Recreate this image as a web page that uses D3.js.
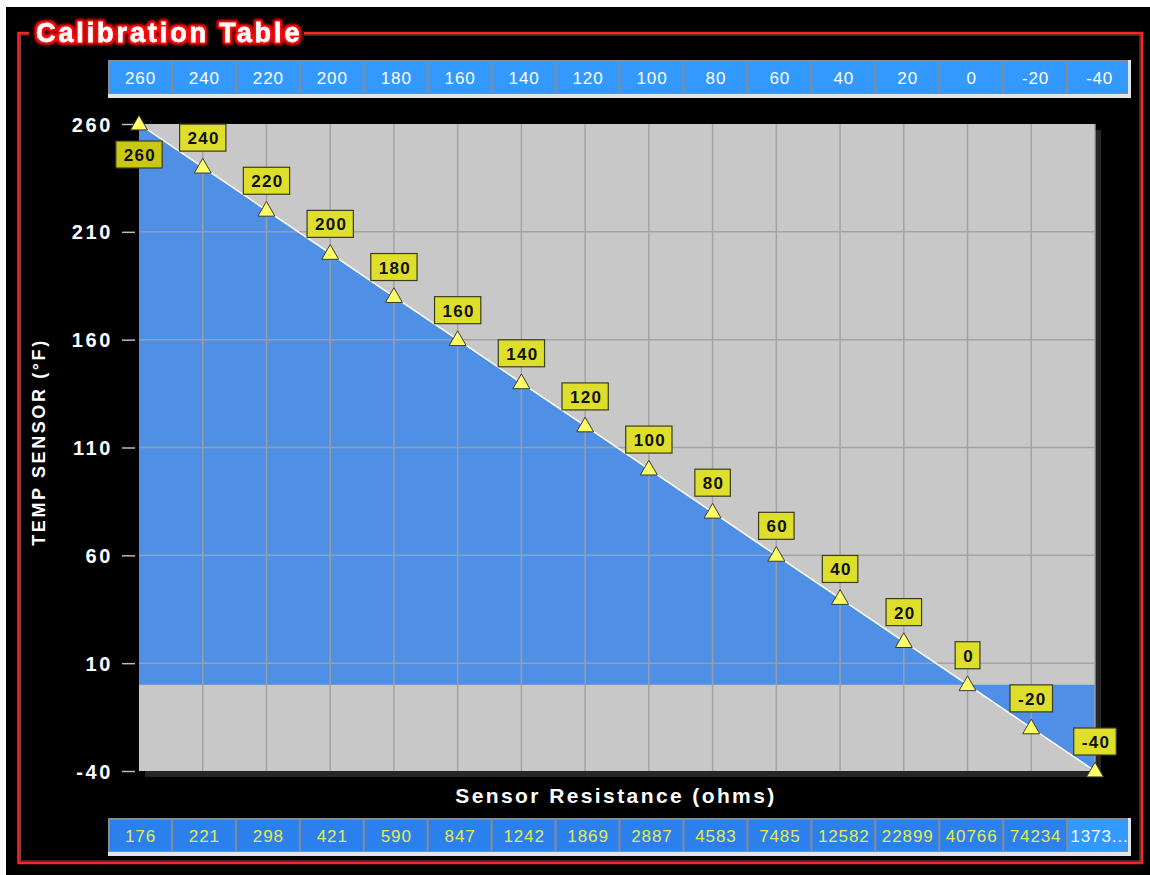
<!DOCTYPE html>
<html>
<head>
<meta charset="utf-8">
<script src="https://cdn.jsdelivr.net/npm/d3@7/dist/d3.min.js"></script>
<style>
  html, body { margin: 0; padding: 0; background: #ffffff; }
  svg { display: block; }
  text { font-family: "Liberation Sans", Arial, sans-serif; }
</style>
</head>
<body>
<svg id="chart" width="1150" height="875"></svg>
<script>
// ---------- data ----------
const temps = [260, 240, 220, 200, 180, 160, 140, 120, 100, 80, 60, 40, 20, 0, -20, -40];
const resistanceLabels = ["176", "221", "298", "421", "590", "847", "1242", "1869", "2887", "4583", "7485", "12582", "22899", "40766", "74234", "1373..."];
const yTickValues = [260, 210, 160, 110, 60, 10, -40];
const title = "Calibration Table";
const yTitle = "TEMP SENSOR (°F)";
const xTitle = "Sensor Resistance (ohms)";

// ---------- layout ----------
const svg = d3.select("#chart");
const W = 1150, H = 875;
const plot = { x0: 139, x1: 1095, y0: 124, y1: 771 };
const table = { x0: 108, x1: 1131 };

const idx = temps.map((d, i) => i);
const x = d3.scalePoint().domain(idx).range([plot.x0, plot.x1]);
const y = d3.scaleLinear().domain([-40, 260]).range([plot.y1, plot.y0]);
const band = d3.scaleBand().domain(idx).range([table.x0, table.x1]).paddingInner(0).paddingOuter(0);

// defs
const defs = svg.append("defs");
const glow = defs.append("filter").attr("id", "glow").attr("x", "-10%").attr("y", "-40%").attr("width", "120%").attr("height", "180%");
glow.append("feMorphology").attr("in", "SourceAlpha").attr("operator", "dilate").attr("radius", 2.4).attr("result", "dil");
glow.append("feFlood").attr("flood-color", "#ff1010").attr("result", "red");
glow.append("feComposite").attr("in", "red").attr("in2", "dil").attr("operator", "in").attr("result", "redDil");
glow.append("feGaussianBlur").attr("in", "redDil").attr("stdDeviation", 1.7).attr("result", "blur");
const gm = glow.append("feMerge");
gm.append("feMergeNode").attr("in", "blur");
gm.append("feMergeNode").attr("in", "blur");
gm.append("feMergeNode").attr("in", "SourceGraphic");

// background panel
svg.append("rect").attr("x", 6).attr("y", 7).attr("width", W - 6).attr("height", H - 7).attr("fill", "#000");

// red frame
svg.append("rect").attr("x", 18.5).attr("y", 33).attr("width", 1142 - 18.5).attr("height", 863 - 33)
  .attr("fill", "none").attr("stroke", "#ff2424").attr("stroke-width", 2.5);
svg.append("rect").attr("x", 20.5).attr("y", 35).attr("width", 1140 - 20.5).attr("height", 861 - 35)
  .attr("fill", "none").attr("stroke", "#ff9c9c").attr("stroke-width", 0.8).attr("opacity", 0.6);

// title (cut frame line behind it)
svg.append("rect").attr("x", 29).attr("y", 24).attr("width", 275).attr("height", 20).attr("fill", "#000");
svg.append("text").attr("x", 36).attr("y", 42)
  .attr("font-size", 27).attr("font-weight", "bold").attr("letter-spacing", 2.9)
  .attr("fill", "#ffffff").attr("stroke", "#ffffff").attr("stroke-width", 0.4)
  .attr("filter", "url(#glow)").text(title);

// ---------- tables ----------
function drawTable(yTop, labels, fillFn, textFn) {
  const g = svg.append("g");
  const h = 38;
  g.append("rect").attr("x", table.x0).attr("y", yTop).attr("width", table.x1 - table.x0).attr("height", h).attr("fill", "#e4e4e4");
  g.append("rect").attr("x", table.x0).attr("y", yTop).attr("width", table.x1 - table.x0 - 3).attr("height", h - 4).attr("fill", "#8a8a8a");
  g.selectAll("rect.cell").data(labels).join("rect").attr("class", "cell")
    .attr("x", (d, i) => band(i) + (i === 0 ? 2 : 1))
    .attr("y", yTop + 2)
    .attr("width", (d, i) => band.bandwidth() - (i === 0 ? 3 : 2) - (i === labels.length - 1 ? 2 : 0))
    .attr("height", h - 7)
    .attr("fill", (d, i) => fillFn(i));
  g.selectAll("text").data(labels).join("text")
    .attr("x", (d, i) => band(i) + band.bandwidth() / 2 + 0.5)
    .attr("y", yTop + 24)
    .attr("text-anchor", "middle")
    .attr("font-size", 17).attr("letter-spacing", 0.9)
    .attr("fill", (d, i) => textFn(i))
    .text(d => d);
}
drawTable(60, temps.map(String), () => "#3399ff", () => "#ffffff");
drawTable(818, resistanceLabels,
  i => i === resistanceLabels.length - 1 ? "#3399ff" : "#2c80ee",
  i => i === resistanceLabels.length - 1 ? "#f2f6ff" : "#e3ea4c");

// ---------- plot ----------
svg.append("rect").attr("x", plot.x0 + 6).attr("y", plot.y0 + 6)
  .attr("width", plot.x1 - plot.x0).attr("height", plot.y1 - plot.y0).attr("fill", "#262626");
svg.append("rect").attr("x", plot.x0).attr("y", plot.y0)
  .attr("width", plot.x1 - plot.x0).attr("height", plot.y1 - plot.y0).attr("fill", "#c8c8c8");

const area = d3.area().x((d, i) => x(i)).y0(y(0)).y1(d => y(d));
svg.append("path").datum(temps).attr("d", area).attr("fill", "#4f8fe6");

// grid
const grid = svg.append("g").attr("stroke", "#a0a0a0").attr("stroke-width", 1.5).attr("opacity", 0.9);
grid.selectAll("line.v").data(idx.slice(1)).join("line").attr("class", "v")
  .attr("x1", d => x(d)).attr("x2", d => x(d)).attr("y1", plot.y0).attr("y2", plot.y1);
grid.selectAll("line.h").data(yTickValues.filter(v => v !== -40 && v !== 260)).join("line").attr("class", "h")
  .attr("x1", plot.x0).attr("x2", plot.x1).attr("y1", d => y(d)).attr("y2", d => y(d));

// line
const line = d3.line().x((d, i) => x(i)).y(d => y(d));
svg.append("path").datum(temps).attr("d", line).attr("fill", "none").attr("stroke", "#ffffff").attr("stroke-width", 1.5);

// y axis
const yAxis = svg.append("g").attr("transform", `translate(${plot.x0},0)`)
  .call(d3.axisLeft(y).tickValues(yTickValues).tickSize(16).tickPadding(12).tickFormat(d => String(d)));
yAxis.select(".domain").remove();
yAxis.selectAll(".tick line").attr("stroke", "#bbbbbb").attr("stroke-width", 1.5).attr("x2", -4).attr("x1", -17);
yAxis.selectAll(".tick text").attr("fill", "#ffffff").attr("font-size", 20).attr("font-weight", "bold")
  .attr("letter-spacing", 2.6).attr("font-family", "'Liberation Sans', Arial, sans-serif").attr("x", -26).attr("dy", "0.35em");

// axis titles
svg.append("text").attr("transform", "translate(45,442) rotate(-90)")
  .attr("text-anchor", "middle").attr("font-size", 18).attr("font-weight", "bold").attr("letter-spacing", 2.6)
  .attr("fill", "#ffffff").text(yTitle);
svg.append("text").attr("x", 616).attr("y", 803)
  .attr("text-anchor", "middle").attr("font-size", 21).attr("font-weight", "bold").attr("letter-spacing", 2.4)
  .attr("fill", "#ffffff").text(xTitle);

// markers
const tri = d3.symbol().type(d3.symbolTriangle).size(125);
svg.selectAll("path.mk").data(temps).join("path").attr("class", "mk")
  .attr("transform", (d, i) => `translate(${x(i)},${y(d) + 1})`)
  .attr("d", tri).attr("fill", "#ffff66").attr("stroke", "#3a3a3a").attr("stroke-width", 1);

// value labels
const lab = svg.selectAll("g.lab").data(temps).join("g").attr("class", "lab");
lab.each(function (d, i) {
  const g = d3.select(this);
  const px = x(i), py = y(d);
  const boxH = 27;
  const top = i === 0 ? py + 17 : py - 16 - boxH;
  const rect = g.append("rect");
  const t = g.append("text").attr("x", px + 1).attr("y", top + 20)
    .attr("text-anchor", "middle")
    .attr("font-size", 17).attr("font-weight", "bold").attr("letter-spacing", 1.3).attr("fill", "#111")
    .text(d);
  const w = t.node().getComputedTextLength() + 14;
  rect.attr("x", px - w / 2).attr("y", top).attr("width", w).attr("height", boxH)
    .attr("fill", i === 0 ? "#c9c914" : "#dede2c").attr("stroke", "#3c3c20").attr("stroke-width", 1.2);
});
</script>
</body>
</html>
